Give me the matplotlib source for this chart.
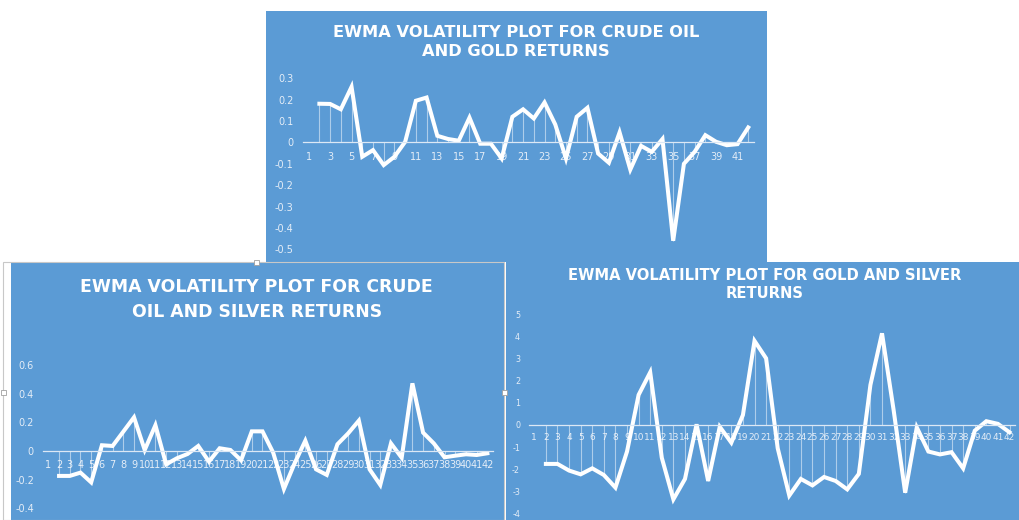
import numpy as np
import matplotlib
matplotlib.use('Agg')
import matplotlib.pyplot as plt
from matplotlib.patches import Rectangle

W, H = 1019, 520
BLUE = '#5B9BD5'
LBL = '#E4EDF7'

# categories 1..42, series has no value in category 1
cats = np.arange(1, 43)

oil_gold = [0.181, 0.18, 0.155, 0.26, -0.067, -0.036, -0.106, -0.067, 0.003, 0.195,
            0.21, 0.031, 0.016, 0.008, 0.116, -0.006, -0.006, -0.075, 0.12, 0.155,
            0.112, 0.187, 0.084, -0.075, 0.12, 0.162, -0.052, -0.095, 0.047, -0.127,
            -0.016, -0.044, 0.016, -0.46, -0.10, -0.044, 0.034, 0.003, -0.013, -0.008,
            0.07]

oil_silver = [-0.174, -0.174, -0.151, -0.219, 0.04, 0.035, 0.135, 0.235, 0.007, 0.18,
              -0.093, -0.051, -0.021, 0.035, -0.074, 0.019, 0.007, -0.065, 0.137, 0.137,
              -0.012, -0.265, -0.086, 0.072, -0.128, -0.167, 0.047, 0.123, 0.212, -0.128,
              -0.237, 0.053, -0.047, 0.472, 0.128, 0.053, -0.044, -0.033, -0.023, -0.028,
              -0.016]

gold_silver = [-1.76, -1.76, -2.06, -2.23, -1.96, -2.26, -2.83, -1.2, 1.36, 2.38,
               -1.48, -3.36, -2.44, 0.03, -2.53, -0.08, -0.8, 0.45, 3.8, 3.01,
               -1.05, -3.19, -2.44, -2.73, -2.35, -2.53, -2.91, -2.21, 1.81, 4.14,
               0.68, -3.06, -0.11, -1.2, -1.33, -1.23, -1.96, -0.26, 0.17, 0.05,
               -0.33]

top_title = 'EWMA VOLATILITY PLOT FOR CRUDE OIL\nAND GOLD RETURNS'
left_title = 'EWMA VOLATILITY PLOT FOR CRUDE\nOIL AND SILVER RETURNS'
right_title = 'EWMA VOLATILITY PLOT FOR GOLD AND SILVER\nRETURNS'


def rect(x0, y0, x1, y1):
    # pixel box (top-left origin) -> figure fraction
    return [x0 / W, 1 - y1 / H, (x1 - x0) / W, (y1 - y0) / H]


def panel(fig, box, z):
    bg = fig.add_axes(rect(*box), zorder=z)
    bg.set_facecolor(BLUE)
    bg.set_xticks([])
    bg.set_yticks([])
    for s in bg.spines.values():
        s.set_visible(False)
    return bg


def chart(fig, box, ylim, yticks, xticks, vals, z, ypad, xpad, yfs, xfs):
    ax = fig.add_axes(rect(*box), zorder=z)
    ax.set_facecolor('none')
    x = cats[1:]
    ax.vlines(x, 0, vals, color='white', lw=0.8, alpha=0.5)
    ax.plot(x, vals, color='white', lw=2.9, solid_joinstyle='miter')
    ax.set_xlim(0.5, 42.5)
    ax.set_ylim(*ylim)
    for s in ['left', 'right', 'top']:
        ax.spines[s].set_visible(False)
    ax.spines['bottom'].set_position(('data', 0))
    ax.spines['bottom'].set_color('#DCE8F5')
    ax.spines['bottom'].set_linewidth(0.9)
    ax.set_yticks(yticks)
    ax.set_yticklabels([('%g' % t) for t in yticks])
    ax.set_xticks(xticks)
    ax.set_xticklabels([str(t) for t in xticks])
    ax.tick_params(axis='y', length=0, pad=ypad, labelsize=yfs, labelcolor=LBL)
    ax.tick_params(axis='x', length=0, pad=xpad, labelsize=xfs, labelcolor=LBL)
    return ax


fig = plt.figure(figsize=(W / 100, H / 100), dpi=100)
fig.patch.set_facecolor('white')

# top chart
bg = panel(fig, (266, 11, 767, 262), 0)
fig.text(516 / W, 1 - 42 / H, top_title, ha='center', va='center', color='white',
         fontsize=11.7, fontweight='bold', linespacing=1.3, zorder=1)
chart(fig, (303.3, 78.3, 753.6, 249.3), (-0.5, 0.3),
      [0.3, 0.2, 0.1, 0, -0.1, -0.2, -0.3, -0.4, -0.5], cats[::2], oil_gold,
      1, 7.2, 7, 7, 7)

# bottom left chart
bl = panel(fig, (11, 263, 504, 520), 2)
fig.text(256.7 / W, 1 - 299.5 / H, left_title, ha='center', va='center', color='white',
         fontsize=12.4, fontweight='bold', linespacing=1.45, zorder=3)
chart(fig, (43.0, 365, 492.7, 508.3), (-0.4, 0.6),
      [0.6, 0.4, 0.2, 0, -0.2, -0.4], cats, oil_silver, 3, 6.5, 6.5, 7, 7)

# bottom right chart
br = panel(fig, (506, 262, 1019, 520), 2)
fig.text(765 / W, 1 - 285 / H, right_title, ha='center', va='center', color='white',
         fontsize=10.6, fontweight='bold', linespacing=1.25, zorder=3)
chart(fig, (528.5, 314.3, 1015.3, 513.5), (-4, 5),
      list(range(5, -5, -1)), cats, gold_silver, 3, 6.1, 5.5, 5.8, 6.5)

# selection frame of the lower left chart
fig.add_artist(Rectangle((3 / W, 0), 501 / W, 1 - 262 / H, transform=fig.transFigure,
                         fill=False, ec='#C8C8C8', lw=0.8, zorder=5))
for hx, hy in [(3, 392), (256.7, 262), (504, 392)]:
    fig.add_artist(Rectangle(((hx - 2.5) / W, 1 - (hy + 2.5) / H), 5 / W, 5 / H,
                             transform=fig.transFigure, fc='white', ec='#A0A0A0',
                             lw=0.6, zorder=6))

fig.savefig('out.png', dpi=100)
